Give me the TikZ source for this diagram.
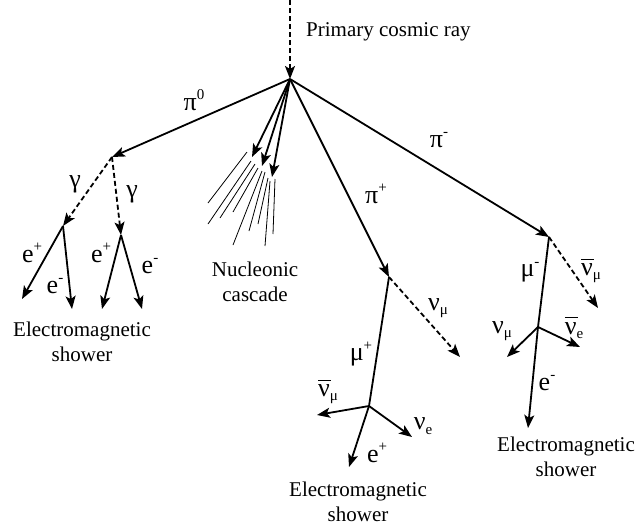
\documentclass[tikz,border=0pt]{standalone}
\usepackage{fontspec}
\setmainfont{Liberation Serif}
\usetikzlibrary{arrows.meta}
\newcommand{\sps}[1]{\raisebox{0.40em}{\fontsize{15}{15}\selectfont #1}}
\newcommand{\sbs}[1]{\raisebox{-0.17em}{\fontsize{15}{15}\selectfont #1}}
\newcommand{\nbar}{\rlap{\rule[0.6em]{0.5em}{1pt}}ν}
\tikzset{
  lbl/.style={inner sep=0pt, font=\fontsize{26}{30}\selectfont},
  txt/.style={inner sep=0pt, font=\fontsize{21}{25}\selectfont},
  ptc/.style={line width=1.8pt, -{Stealth[length=13pt,width=10pt,inset=3pt]}},
  ptcdash/.style={ptc, dash pattern=on 5pt off 3pt},
  plainln/.style={line width=1.8pt},
  thinln/.style={line width=0.8pt},
}
\begin{document}
\begin{tikzpicture}[x=1pt,y=-1pt]
\useasboundingbox (0,0) rectangle (637,528);
% vertices
\coordinate (top) at (290,0);
\coordinate (V) at (290,79);
\coordinate (P0) at (112,157);
\coordinate (N1) at (252,157);
\coordinate (N2) at (262,166);
\coordinate (N3) at (272,177);
\coordinate (Pp) at (389,277);
\coordinate (Pm) at (549,237);
\coordinate (G1) at (63,226);
\coordinate (G2) at (121,235);
\coordinate (E1) at (22,299);
\coordinate (E2) at (72,309);
\coordinate (E3) at (102,309);
\coordinate (E4) at (142,309);
\coordinate (NUm) at (460,357);
\coordinate (Mp) at (369,406);
\coordinate (A1) at (317,415);
\coordinate (A2) at (412,437);
\coordinate (A3) at (349,467);
\coordinate (NUbm) at (598,308);
\coordinate (Mm) at (538,327);
\coordinate (B1) at (507,357);
\coordinate (B2) at (580,347);
\coordinate (B3) at (528,428);
% thin cascade lines
\coordinate (c1a) at (247,152); \coordinate (c1b) at (208,203);
\coordinate (c2a) at (251,161); \coordinate (c2b) at (208,224);
\coordinate (c3a) at (255,164); \coordinate (c3b) at (220,218);
\coordinate (c4a) at (258,168); \coordinate (c4b) at (233,212);
\coordinate (c5a) at (262,171); \coordinate (c5b) at (233,245);
\coordinate (c6a) at (265,172); \coordinate (c6b) at (249,231);
\coordinate (c7a) at (268,178); \coordinate (c7b) at (258,224);
\coordinate (c8a) at (270,181); \coordinate (c8b) at (265,246);
\coordinate (c9a) at (275,179); \coordinate (c9b) at (273,234);
\foreach \i in {1,...,9} \draw[thinln] (c\i a) -- (c\i b);
% connectors
\draw[ptcdash] (top) -- (V);
\draw[ptc] (V) -- (P0);
\draw[ptc] (V) -- (N1);
\draw[ptc] (V) -- (N2);
\draw[ptc] (V) -- (N3);
\draw[ptc] (V) -- (Pp);
\draw[ptc] (V) -- (Pm);
\draw[ptcdash] (P0) -- (G1);
\draw[ptcdash] (P0) -- (G2);
\draw[ptc] (G1) -- (E1);
\draw[ptc] (G1) -- (E2);
\draw[ptc] (G2) -- (E3);
\draw[ptc] (G2) -- (E4);
\draw[ptcdash] (Pp) -- (NUm);
\draw[plainln] (Pp) -- (Mp);
\draw[ptc] (Mp) -- (A1);
\draw[ptc] (Mp) -- (A2);
\draw[ptc] (Mp) -- (A3);
\draw[ptcdash] (Pm) -- (NUbm);
\draw[plainln] (Pm) -- (Mm);
\draw[ptc] (Mm) -- (B1);
\draw[ptc] (Mm) -- (B2);
\draw[ptc] (Mm) -- (B3);
% labels
\node[txt, anchor=west] (tPrim) at (306,32) {Primary cosmic ray};
\node[lbl] (tpi0) at (194,100) {π\sps{0}};
\node[lbl] (tpip) at (376,194) {π\sps{+}};
\node[lbl] (tpim) at (439,140) {π\sps{-}};
\node[lbl] (tg1) at (75,184) {γ};
\node[lbl] (tg2) at (132,194) {γ};
\node[lbl] (te1) at (32,253) {e\sps{+}};
\node[lbl] (te2) at (55,286) {e\sps{-}};
\node[lbl] (te3) at (101,253) {e\sps{+}};
\node[lbl] (te4) at (150,266) {e\sps{-}};
\node[txt, align=center] (tEM1) at (82,342) {Electromagnetic\\shower};
\node[txt, align=center] (tNuc) at (255,282) {Nucleonic\\cascade};
\node[lbl] (tnum) at (438,308) {ν\sbs{μ}};
\node[lbl] (tmup) at (361,354) {μ\sps{+}};
\node[lbl] (tnbm) at (328,392) {\nbar\sbs{μ}};
\node[lbl] (tne) at (423,426) {ν\sbs{e}};
\node[lbl] (tep) at (377,453) {e\sps{+}};
\node[txt, align=center] (tEM2) at (358,502) {Electromagnetic\\shower};
\node[lbl] (tnbm2) at (591,271) {\nbar\sbs{μ}};
\node[lbl] (tmum) at (530,272) {μ\sps{-}};
\node[lbl] (tnum2) at (502,331) {ν\sbs{μ}};
\node[lbl] (tnbe) at (574,328) {\nbar\sbs{e}};
\node[lbl] (tem) at (547,383) {e\sps{-}};
\node[txt, align=center] (tEM3) at (566,457) {Electromagnetic\\shower};
\end{tikzpicture}
\end{document}
